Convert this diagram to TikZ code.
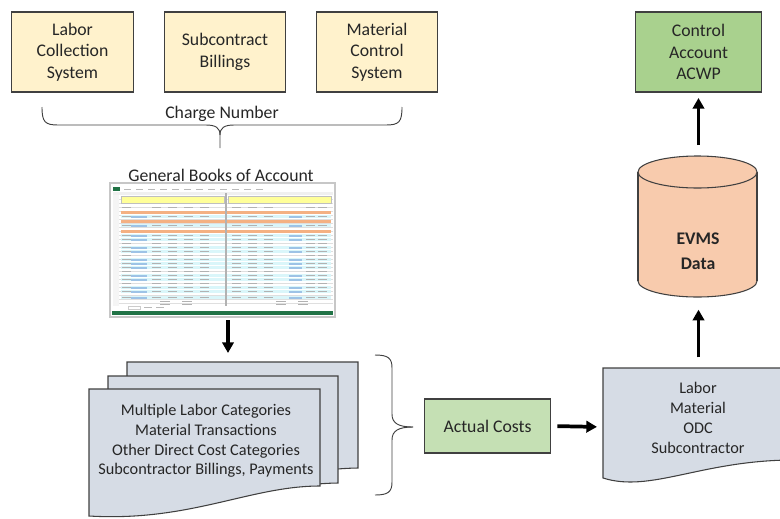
\documentclass[tikz,border=0pt]{standalone}
\usepackage{fontspec}
\setmainfont{Carlito}
\usepackage{xcolor}
\usetikzlibrary{arrows.meta}

\definecolor{srcfill}{RGB}{255,242,204}
\definecolor{accfill}{RGB}{169,209,142}
\definecolor{actfill}{RGB}{197,224,180}
\definecolor{cylfill}{RGB}{248,203,173}
\definecolor{docfill}{RGB}{214,220,229}
\definecolor{edge}{RGB}{64,64,64}
\definecolor{ink}{RGB}{38,38,38}
\definecolor{xlgreen}{RGB}{33,115,70}
\definecolor{xlyellow}{RGB}{255,255,153}
\definecolor{xlorange}{RGB}{244,177,131}
\definecolor{xlcyan}{RGB}{218,246,250}
\definecolor{xlblue}{RGB}{157,195,230}

\tikzset{
  srcbox/.style={draw=edge, line width=0.9pt, fill=srcfill, minimum width=91pt, minimum height=60pt, align=center, text=ink, font=\fontsize{13.3}{16.1}\selectfont},
  greenbox/.style={draw=edge, line width=0.9pt, minimum width=95pt, minimum height=60pt, align=center, text=ink, font=\fontsize{13.3}{16.1}\selectfont},
  lbl/.style={inner sep=0pt, anchor=base, text=ink, font=\fontsize{13.3}{16.1}\selectfont},
  doctext/.style={inner sep=0pt, align=center, text=ink, font=\fontsize{12.2}{14.8}\selectfont},
  docshape/.style={draw=edge, line width=0.8pt, fill=docfill},
  brace/.style={draw=edge, line width=0.7pt},
  flowarrow/.style={line width=2.8pt, -{Triangle[length=8pt,width=8.5pt]}},
}

\begin{document}
\begin{tikzpicture}[x=0.75pt,y=0.75pt,yscale=-1,xscale=1]
\useasboundingbox (0,0) rectangle (780,518);
\clip (0,0) rectangle (780,518);

% Source systems
\node[srcbox] (labor) at (72.5,52) {Labor\\Collection\\System};
\node[srcbox] (subk) at (225,52) {Subcontract\\Billings};
\node[srcbox] (matl) at (377,52) {Material\\Control\\System};

%Shape: Brace
\draw[brace] (42,107) .. controls (42,122) and (45,125) .. (58,125) -- (206,125) .. controls (216,125) and (220,128) .. (220,135) -- (220,148);
\draw[brace] (402,107) .. controls (402,122) and (399,125) .. (386,125) -- (234,125) .. controls (224,125) and (220,128) .. (220,135);

% Text Node
\node[lbl] (charge) at (222,118) {Charge Number};
% Text Node
\node[lbl] (books) at (221,181) {General Books of Account};

%Shape: Spreadsheet
\draw[black!22, line width=1.2pt, fill=white] (110,183) rectangle (335,317);
\fill[xlgreen] (113,187) rectangle (120,191);
\foreach \x in {124,136,148,160,172,184,196,208,220,232,244,256}
  \draw[gray!55, line width=0.3pt] (\x,189) -- (\x+7,189);
\fill[gray!12] (113,192) rectangle (333,195);
\fill[gray!8] (113,195) rectangle (119,306);
\foreach \y in {199,203,...,303}
  \draw[gray!25, line width=0.2pt] (119,\y) -- (333,\y);
\foreach \y in {215,224,234,238,246,250,258,262,266,274,278,286,290,296}
  \fill[xlcyan] (121,\y) rectangle (331,\y+3);
\draw[gray!50, fill=xlyellow, line width=0.2pt] (121,196) rectangle (224,203);
\draw[gray!50, fill=xlyellow, line width=0.2pt] (228,196) rectangle (331,203);
\foreach \y in {211,220,230}
  \fill[xlorange] (121,\y) rectangle (331,\y+3);
\foreach \y in {215,224,234,238,246,250,258,262,266,274,278,286,290,296}{
  \fill[xlblue] (131,\y+0.5) rectangle (147,\y+2.5);
  \fill[xlblue] (289,\y+0.5) rectangle (302,\y+2.5);
}
\foreach \y in {207,216,225,235,239,243,247,251,255,259,263,267,271,275,279,283,287,291,297}
  \foreach \x in {122,152,168,184,200,232,248,264,306,318}
    \draw[gray!60, line width=0.3pt] (\x,\y+0.5) -- (\x+9,\y+0.5);
\foreach \y in {301,304}
  \foreach \x in {160,182,276,298}
    \draw[gray!60, line width=0.3pt] (\x,\y) -- (\x+10,\y);
\draw[gray!60, line width=0.8pt] (226,193) -- (226,306);
\draw[gray!40, fill=white, line width=0.2pt] (128,306) rectangle (140,309);
\foreach \x in {144,156}
  \draw[gray!55, line width=0.3pt] (\x,307.5) -- (\x+8,307.5);
\fill[xlgreen] (112,311) rectangle (333,315);
\coordinate (sheetbot) at (228,320);

%Shape: Document stack
\draw[docshape] (127,362) -- (358,362) -- (358,468) .. controls (290,469) and (230,495) .. (127,490) -- cycle;
\draw[docshape] (108,376) -- (338,376) -- (338,483) .. controls (270,484) and (210,510) .. (108,505) -- cycle;
\draw[docshape] (89,389) -- (320,389) -- (320,486) .. controls (250,486) and (190,522) .. (89,516) -- cycle;
\coordinate (stacktop) at (228,353);
% Text Node
\node[doctext] (stacktext) at (206,441) {Multiple Labor Categories\\Material Transactions\\Other Direct Cost Categories\\Subcontractor Billings, Payments};

%Shape: Brace
\draw[brace] (375,355) .. controls (388,355) and (392,358) .. (392,368) -- (392,414) .. controls (392,423) and (398,427) .. (413,427);
\draw[brace] (375,495) .. controls (388,495) and (392,492) .. (392,482) -- (392,440) .. controls (392,431) and (398,427) .. (413,427);

% Actual costs
\node[greenbox, fill=actfill, minimum width=94pt, minimum height=40.5pt] (actual) at (487.5,426) {Actual Costs};

%Shape: Cost document
\draw[docshape] (603,368) -- (790,368) -- (790,460) .. controls (700,461) and (650,493) .. (603,478) -- cycle;
\coordinate (rdocin) at (603,427);
\coordinate (rdoctop) at (698.5,368);
% Text Node
\node[doctext] (costtext) at (698,418) {Labor\\Material\\ODC\\Subcontractor};

%Shape: Cylinder
\draw[draw=edge, line width=0.8pt, fill=cylfill] (697.5,281) ellipse [x radius=59.5, y radius=16];
\fill[cylfill] (638,172) rectangle (757,281);
\draw[draw=edge, line width=0.8pt] (638,172) -- (638,281) (757,172) -- (757,281);
\draw[draw=edge, line width=0.8pt, fill=cylfill] (697.5,172) ellipse [x radius=59.5, y radius=16];
\coordinate (cyltop) at (698.5,157);
\coordinate (cylbot) at (698.5,297);
% Text Node
\node[doctext, font=\fontsize{13.3}{19}\selectfont\bfseries] (evms) at (698,251) {EVMS\\Data};

% Control account
\node[greenbox, fill=accfill] (ctrl) at (698.5,52) {Control\\Account\\ACWP};

% Arrows
\draw[flowarrow] (sheetbot) -- (stacktop);
\draw[flowarrow, shorten <=5pt, shorten >=4.5pt] (actual.east) -- (rdocin);
\draw[flowarrow, shorten <=8pt, shorten >=9.5pt] (rdoctop) -- (cylbot);
\draw[flowarrow, shorten <=9pt, shorten >=4pt] (cyltop) -- (ctrl.south);

\end{tikzpicture}
\end{document}
